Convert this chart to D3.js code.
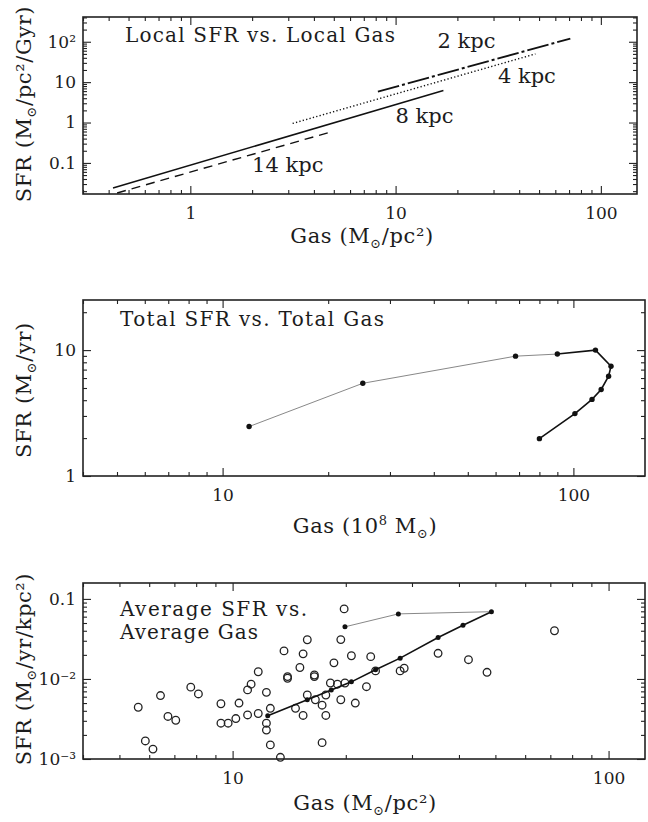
<!DOCTYPE html>
<html>
<head>
<meta charset="utf-8">
<script src="https://cdn.jsdelivr.net/npm/d3@7"></script>
<style>
  body { margin: 0; background: #fff; }
  text { font-family: "DejaVu Serif", serif; fill: #1c1c1c; }
</style>
</head>
<body>
<div id="chart"></div>
<script>
// ---- panel 1: local SFR vs local gas (one power-law segment per radius)
const localRadii = ["2 kpc", "4 kpc", "8 kpc", "14 kpc"];
const localGasStart = [8.2, 3.15, 0.42, 0.44];
const localGasEnd = [71, 48, 17.1, 4.7];
const localSfrStart = [5.8, 0.95, 0.024, 0.018];
const localSfrEnd = [120, 50, 6.2, 0.56];
const localLabelGas = [16, 31.5, 10, 2.0];
const localLabelSfr = [70, 9.5, 1.0, 0.06];

// ---- panel 2: total SFR vs total gas (time sequence)
const totalGas = [11.9, 25.1, 68.4, 90, 115.6, 128, 126, 120, 113, 101, 80];
const totalSfr = [2.47, 5.45, 8.95, 9.3, 10.0, 7.45, 6.2, 4.87, 4.06, 3.13, 1.98];

// ---- panel 3: average SFR vs average gas
const avgGasObs = [5.61, 5.86, 6.14, 6.43, 6.73, 7.06, 7.74, 8.11, 9.31, 9.31,
  9.73, 10.2, 10.4, 10.96, 10.96, 11.2, 11.7, 11.7, 12.3, 12.3,
  12.3, 12.6, 12.6, 13.4, 13.7, 14.0, 14.0, 14.7, 15.1, 15.4,
  15.4, 15.8, 15.8, 16.5, 16.5, 16.6, 17.3, 17.3, 17.7, 17.7,
  18.2, 18.6, 19.0, 19.4, 19.4, 19.8, 19.9, 20.7, 21.2, 22.7,
  23.3, 24.0, 27.9, 28.6, 35.2, 42.4, 47.5, 71.8];
const avgSfrObs = [0.00443, 0.00168, 0.00133, 0.0062, 0.0034, 0.00305, 0.0079, 0.0065, 0.0049, 0.0028,
  0.0028, 0.0032, 0.0050, 0.00355, 0.0073, 0.0086, 0.0037, 0.0123, 0.0068, 0.0028,
  0.0023, 0.0043, 0.0015, 0.00105, 0.0224, 0.0107, 0.0102, 0.0043, 0.0139, 0.0206,
  0.0035, 0.0309, 0.0063, 0.0112, 0.0107, 0.0055, 0.0047, 0.0016, 0.0063, 0.0035,
  0.0089, 0.0159, 0.0086, 0.031, 0.0055, 0.075, 0.0089, 0.0195, 0.0050, 0.0080,
  0.019, 0.0126, 0.0126, 0.0136, 0.0209, 0.0174, 0.0121, 0.040];
const avgGasModel = [19.9, 27.6, 48.8, 41.0, 35.2, 27.9, 24.0, 20.7, 18.3, 15.8, 12.4];
const avgSfrModel = [0.0448, 0.065, 0.0692, 0.0468, 0.0330, 0.0182, 0.0130, 0.0092, 0.0073, 0.0055, 0.00347];

// tick labels
const xTicks1 = [1, 10, 100], xTickLabels1 = ["1", "10", "100"];
const yTicks1 = [0.1, 1, 10, 100], yTickLabels1 = ["0.1", "1", "10", "10²"];
const xTicks2 = [10, 100], xTickLabels2 = ["10", "100"];
const yTicks2 = [1, 10], yTickLabels2 = ["1", "10"];
const xTicks3 = [10, 100], xTickLabels3 = ["10", "100"];
const yTicks3 = [0.001, 0.01, 0.1], yTickLabels3 = ["10⁻³", "10⁻²", "0.1"];

const lineStyles = {
  "2 kpc": { dash: "22,3,3,3", width: 1.9 },
  "4 kpc": { dash: "1.3,2.2", width: 1.4 },
  "8 kpc": { dash: null, width: 1.5 },
  "14 kpc": { dash: "9,6", width: 1.4 }
};

const svg = d3.select("#chart").append("svg")
  .attr("width", 648).attr("height", 822);

function minorTicks(domain) {
  const out = [];
  const lo = Math.floor(Math.log10(domain[0])), hi = Math.ceil(Math.log10(domain[1]));
  for (let e = lo; e <= hi; e++) {
    for (let m = 2; m <= 9; m++) {
      const v = m * Math.pow(10, e);
      if (v >= domain[0] * 0.999 && v <= domain[1] * 1.001) out.push(v);
    }
  }
  return out;
}

function makePanel(id, box, xDomain, yDomain, xt, xl, yt, yl) {
  const w = box.right - box.left, h = box.bottom - box.top;
  const g = svg.append("g").attr("transform", "translate(" + box.left + "," + box.top + ")");
  const x = d3.scaleLog().domain(xDomain).range([0, w]);
  const y = d3.scaleLog().domain(yDomain).range([h, 0]);

  g.append("clipPath").attr("id", "clip" + id)
    .append("rect").attr("width", w).attr("height", h);

  const axes = [
    [d3.axisBottom(x).tickValues(xt).tickFormat((d, i) => xl[i]).tickSize(-8).tickPadding(13), "translate(0," + h + ")"],
    [d3.axisBottom(x).tickValues(minorTicks(xDomain)).tickFormat("").tickSize(-4), "translate(0," + h + ")"],
    [d3.axisTop(x).tickValues(xt).tickFormat("").tickSize(-8), null],
    [d3.axisTop(x).tickValues(minorTicks(xDomain)).tickFormat("").tickSize(-4), null],
    [d3.axisLeft(y).tickValues(yt).tickFormat((d, i) => yl[i]).tickSize(-8).tickPadding(7), null],
    [d3.axisLeft(y).tickValues(minorTicks(yDomain)).tickFormat("").tickSize(-4), null],
    [d3.axisRight(y).tickValues(yt).tickFormat("").tickSize(-8), "translate(" + w + ",0)"],
    [d3.axisRight(y).tickValues(minorTicks(yDomain)).tickFormat("").tickSize(-4), "translate(" + w + ",0)"]
  ];
  axes.forEach(a => {
    const ag = g.append("g");
    if (a[1]) ag.attr("transform", a[1]);
    ag.call(a[0]);
    ag.select(".domain").remove();
    ag.selectAll("line").attr("stroke", "#222").attr("stroke-width", 1.1);
    ag.attr("font-family", null).attr("font-size", 17);
    ag.selectAll("text").attr("fill", "#1c1c1c");
  });

  g.append("rect").attr("width", w).attr("height", h)
    .attr("fill", "none").attr("stroke", "#222").attr("stroke-width", 1.6);

  return { g, x, y, w, h, clip: "url(#clip" + id + ")" };
}

// text with M⊙ subscripts and 10⁸ superscripts
function richText(parent, parts) {
  let shift = 0;
  parts.forEach(p => {
    const t = parent.append("tspan").text(p[0]);
    let target = 0;
    if (p[1] === "sub") { t.attr("font-size", 13); target = 5; }
    if (p[1] === "sup") { t.attr("font-size", 13); target = -8; }
    if (target !== shift) t.attr("dy", target - shift);
    shift = target;
  });
}

function xTitle(cx, baseY, len, parts) {
  const t = svg.append("text").attr("x", cx).attr("y", baseY)
    .attr("text-anchor", "middle").attr("font-size", 21)
    .attr("letter-spacing", 0.6);
  richText(t, parts);
}

function yTitle(cx, cy, parts) {
  const t = svg.append("text")
    .attr("transform", "translate(" + cx + "," + cy + ") rotate(-90)")
    .attr("text-anchor", "middle").attr("font-size", 21)
    .attr("letter-spacing", 0.6);
  richText(t, parts);
}

// ================= Panel 1
const p1 = makePanel(1, { left: 83, right: 637, top: 17, bottom: 194 },
  [0.3, 150], [0.017, 410], xTicks1, xTickLabels1, yTicks1, yTickLabels1);

const line1 = d3.line().x(d => p1.x(d[0])).y(d => p1.y(d[1]));
localRadii.forEach((r, i) => {
  p1.g.append("path")
    .attr("d", line1([[localGasStart[i], localSfrStart[i]], [localGasEnd[i], localSfrEnd[i]]]))
    .attr("clip-path", p1.clip)
    .attr("fill", "none").attr("stroke", "#111")
    .attr("stroke-width", lineStyles[r].width)
    .attr("stroke-dasharray", lineStyles[r].dash);
  p1.g.append("text")
    .attr("x", p1.x(localLabelGas[i])).attr("y", p1.y(localLabelSfr[i]))
    .attr("font-size", 21).text(r);
});
p1.g.append("text").attr("x", 42).attr("y", 25).attr("font-size", 20)
  .attr("textLength", 270).attr("lengthAdjust", "spacing")
  .text("Local SFR vs. Local Gas");

xTitle(362, 243, 0, [["Gas (M"], ["⊙", "sub"], ["/pc²)"]]);
yTitle(31, 104, [["SFR (M"], ["⊙", "sub"], ["/pc²/Gyr)"]]);

// ================= Panel 2
const p2 = makePanel(2, { left: 83, right: 645, top: 300, bottom: 476 },
  [4, 160], [1, 25], xTicks2, xTickLabels2, yTicks2, yTickLabels2);

const pts2 = totalGas.map((v, i) => [v, totalSfr[i]]);
const line2 = d3.line().x(d => p2.x(d[0])).y(d => p2.y(d[1]));
p2.g.append("path").attr("d", line2(pts2.slice(0, 4)))
  .attr("fill", "none").attr("stroke", "#888").attr("stroke-width", 1);
p2.g.append("path").attr("d", line2(pts2.slice(3)))
  .attr("fill", "none").attr("stroke", "#111").attr("stroke-width", 1.6);
p2.g.selectAll(".dot").data(pts2).enter().append("circle")
  .attr("cx", d => p2.x(d[0])).attr("cy", d => p2.y(d[1]))
  .attr("r", 2.7).attr("fill", "#111");
p2.g.append("text").attr("x", 37).attr("y", 26).attr("font-size", 20)
  .attr("textLength", 264).attr("lengthAdjust", "spacing")
  .text("Total SFR vs. Total Gas");

xTitle(365, 533, 0, [["Gas (10"], ["8", "sup"], [" M"], ["⊙", "sub"], [")"]]);
yTitle(31, 390, [["SFR (M"], ["⊙", "sub"], ["/yr)"]]);

// ================= Panel 3
const p3 = makePanel(3, { left: 83, right: 645, top: 583, bottom: 759 },
  [4, 125], [0.001, 0.158], xTicks3, xTickLabels3, yTicks3, yTickLabels3);

const obs3 = avgGasObs.map((v, i) => [v, avgSfrObs[i]]);
p3.g.selectAll(".obs").data(obs3).enter().append("circle")
  .attr("cx", d => p3.x(d[0])).attr("cy", d => p3.y(d[1]))
  .attr("r", 3.8).attr("fill", "none").attr("stroke", "#222").attr("stroke-width", 1.3);

const mod3 = avgGasModel.map((v, i) => [v, avgSfrModel[i]]);
const line3 = d3.line().x(d => p3.x(d[0])).y(d => p3.y(d[1]));
p3.g.append("path").attr("d", line3(mod3.slice(0, 3)))
  .attr("fill", "none").attr("stroke", "#888").attr("stroke-width", 1);
p3.g.append("path").attr("d", line3(mod3.slice(2)))
  .attr("fill", "none").attr("stroke", "#111").attr("stroke-width", 1.6);
p3.g.selectAll(".mdot").data(mod3).enter().append("circle")
  .attr("cx", d => p3.x(d[0])).attr("cy", d => p3.y(d[1]))
  .attr("r", 2.5).attr("fill", "#111");

p3.g.append("text").attr("x", 37).attr("y", 33).attr("font-size", 20)
  .attr("textLength", 187).attr("lengthAdjust", "spacing").text("Average SFR vs.");
p3.g.append("text").attr("x", 37).attr("y", 56).attr("font-size", 20)
  .attr("textLength", 138).attr("lengthAdjust", "spacing").text("Average Gas");

xTitle(365, 810, 0, [["Gas (M"], ["⊙", "sub"], ["/pc²)"]]);
yTitle(31, 669, [["SFR (M"], ["⊙", "sub"], ["/yr/kpc²)"]]);
</script>
</body>
</html>
